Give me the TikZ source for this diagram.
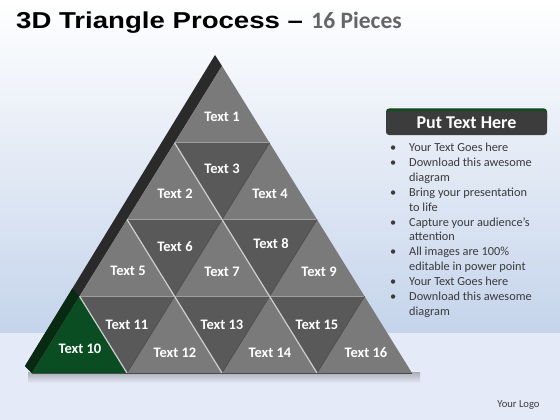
\documentclass[tikz,border=0pt]{standalone}
\usepackage{graphicx}
\usepackage{fontspec}
\setmainfont{Carlito}
\newfontfamily\headfont{Liberation Sans}
\definecolor{upgray}{HTML}{7A7A7A}
\definecolor{downgray}{HTML}{595959}
\definecolor{greenface}{HTML}{0B4D22}
\definecolor{sidedark}{HTML}{2A2A2A}
\definecolor{sidegreen}{HTML}{082A12}
\definecolor{bevellight}{HTML}{CFCFCF}
\definecolor{ridgegray}{HTML}{9E9E9E}
\definecolor{creasedark}{HTML}{4A4A4A}
\definecolor{headgray}{HTML}{3C3C3C}
\definecolor{headgreen}{HTML}{0E4A1C}
\definecolor{bodytext}{HTML}{3A3A3A}
\definecolor{subgray}{HTML}{666666}
\definecolor{bgmid}{HTML}{E6ECF6}
\definecolor{bgblue}{HTML}{C5D4EB}
\definecolor{bglow}{HTML}{E4EAF7}
\definecolor{shadowgray}{HTML}{A9ADB5}

\begin{document}
\begin{tikzpicture}[x=1pt,y=-1pt,
  upface/.style={fill=upgray},
  downface/.style={fill=downgray},
  ridge/.style={draw=ridgegray,line width=0.8pt},
  crease/.style={draw=creasedark,line width=0.7pt},
  bevel/.style={draw=bevellight,line width=1.2pt},
  lbl/.style={text=white,inner sep=0,font=\bfseries\fontsize{14.5}{14.5}\selectfont}]
\useasboundingbox (0,0) rectangle (560,420);
% BACKGROUND
\shade [top color=white, middle color=bgmid, bottom color=bgblue] (0,0) rectangle (560,333);
\fill [bglow] (0,333) rectangle (560,420);
% SHADOW UNDER PYRAMID
\shade [top color=shadowgray, bottom color=bglow] (28,372) rectangle (420,383);
% TITLE
\node (title) [anchor=base west, inner sep=0] at (16,29)
  {\headfont\bfseries\fontsize{23}{23}\selectfont\scalebox{1.2}[1]{3D Triangle Process \textendash}};
\node (subtitle) [anchor=base west, inner sep=0, text=subgray, xshift=8pt] at (title.base east)
  {\bfseries\fontsize{23.5}{23.5}\selectfont 16 Pieces};
% GRID POINTS
\coordinate (p00) at (222,66);
\coordinate (p10) at (174.5,142.75);
\coordinate (p11) at (269.5,142.75);
\coordinate (p20) at (127,219.5);
\coordinate (p21) at (222,219.5);
\coordinate (p22) at (317,219.5);
\coordinate (p30) at (79.5,296.25);
\coordinate (p31) at (174.5,296.25);
\coordinate (p32) at (269.5,296.25);
\coordinate (p33) at (364.5,296.25);
\coordinate (p40) at (32,373);
\coordinate (p41) at (127,373);
\coordinate (p42) at (222,373);
\coordinate (p43) at (317,373);
\coordinate (p44) at (412,373);
% SIDE FACE
\fill [sidedark] (p40) -- (p00) -- (215,55) -- (25,366) -- cycle;
\fill [sidegreen] (p40) -- (p30) -- (72.5,288.25) -- (25,366) -- cycle;
% ROW 1
\fill [upface] (p00) -- (p10) -- (p11) -- cycle;
% ROW 2
\fill [upface] (p10) -- (p20) -- (p21) -- cycle;
\fill [downface] (p10) -- (p11) -- (p21) -- cycle;
\fill [upface] (p11) -- (p21) -- (p22) -- cycle;
% ROW 3
\fill [upface] (p20) -- (p30) -- (p31) -- cycle;
\fill [downface] (p20) -- (p21) -- (p31) -- cycle;
\fill [upface] (p21) -- (p31) -- (p32) -- cycle;
\fill [downface] (p21) -- (p22) -- (p32) -- cycle;
\fill [upface] (p22) -- (p32) -- (p33) -- cycle;
% ROW 4
\fill [greenface] (p30) -- (p40) -- (p41) -- cycle;
\fill [downface] (p30) -- (p31) -- (p41) -- cycle;
\fill [upface] (p31) -- (p41) -- (p42) -- cycle;
\fill [downface] (p31) -- (p32) -- (p42) -- cycle;
\fill [upface] (p32) -- (p42) -- (p43) -- cycle;
\fill [downface] (p32) -- (p33) -- (p43) -- cycle;
\fill [upface] (p33) -- (p43) -- (p44) -- cycle;
% EDGES BETWEEN PIECES
\draw [ridge] (p10) -- (p11) (p20) -- (p22) (p30) -- (p33);
\draw [crease] (p11) -- (p41) (p22) -- (p42) (p33) -- (p43);
\draw [bevel] (p10) -- (p43) (p20) -- (p42) (p30) -- (p41);
\draw [crease] (p40) -- (p44);
% PIECE LABELS
\node (t1) [lbl] at (222,117) {Text 1};
\node (t2) [lbl] at (175,194) {Text 2};
\node (t3) [lbl] at (222,169) {Text 3};
\node (t4) [lbl] at (270,194) {Text 4};
\node (t5) [lbl] at (128,271) {Text 5};
\node (t6) [lbl] at (175,247) {Text 6};
\node (t7) [lbl] at (222,272) {Text 7};
\node (t8) [lbl] at (271,244) {Text 8};
\node (t9) [lbl] at (319,272) {Text 9};
\node (t10) [lbl] at (80,349) {Text 10};
\node (t11) [lbl] at (127,325) {Text 11};
\node (t12) [lbl] at (175,353) {Text 12};
\node (t13) [lbl] at (222,325) {Text 13};
\node (t14) [lbl] at (270,353) {Text 14};
\node (t15) [lbl] at (317,325) {Text 15};
\node (t16) [lbl] at (366,353) {Text 16};
% HEADING BOX
\fill [headgreen, rounded corners=3pt] (386,108.5) rectangle (547,122);
\node (head) [fill=headgray, rounded corners=3pt, minimum width=161pt, minimum height=24pt,
  inner sep=0, text=white, font=\bfseries\fontsize{18}{18}\selectfont] at (466.5,123) {Put Text Here};
% BULLET LIST
\node (bullets) [anchor=base west, inner sep=0, text=bodytext,
  font=\fontsize{12.3}{14.9}\selectfont] at (390,151.5) {%
  \begin{tabular}[t]{@{}l@{}l@{}}
  \makebox[19pt][l]{\textbullet} & Your Text Goes here\\
  \makebox[19pt][l]{\textbullet} & Download this awesome\\
   & diagram\\
  \makebox[19pt][l]{\textbullet} & Bring your presentation\\
   & to life\\
  \makebox[19pt][l]{\textbullet} & Capture your audience’s\\
   & attention\\
  \makebox[19pt][l]{\textbullet} & All images are 100\%\\
   & editable in power point\\
  \makebox[19pt][l]{\textbullet} & Your Text Goes here\\
  \makebox[19pt][l]{\textbullet} & Download this awesome\\
   & diagram
  \end{tabular}};
% LOGO
\node (logo) [text=bodytext, font=\fontsize{10.6}{10.6}\selectfont] at (518.5,405) {Your Logo};
\end{tikzpicture}
\end{document}
